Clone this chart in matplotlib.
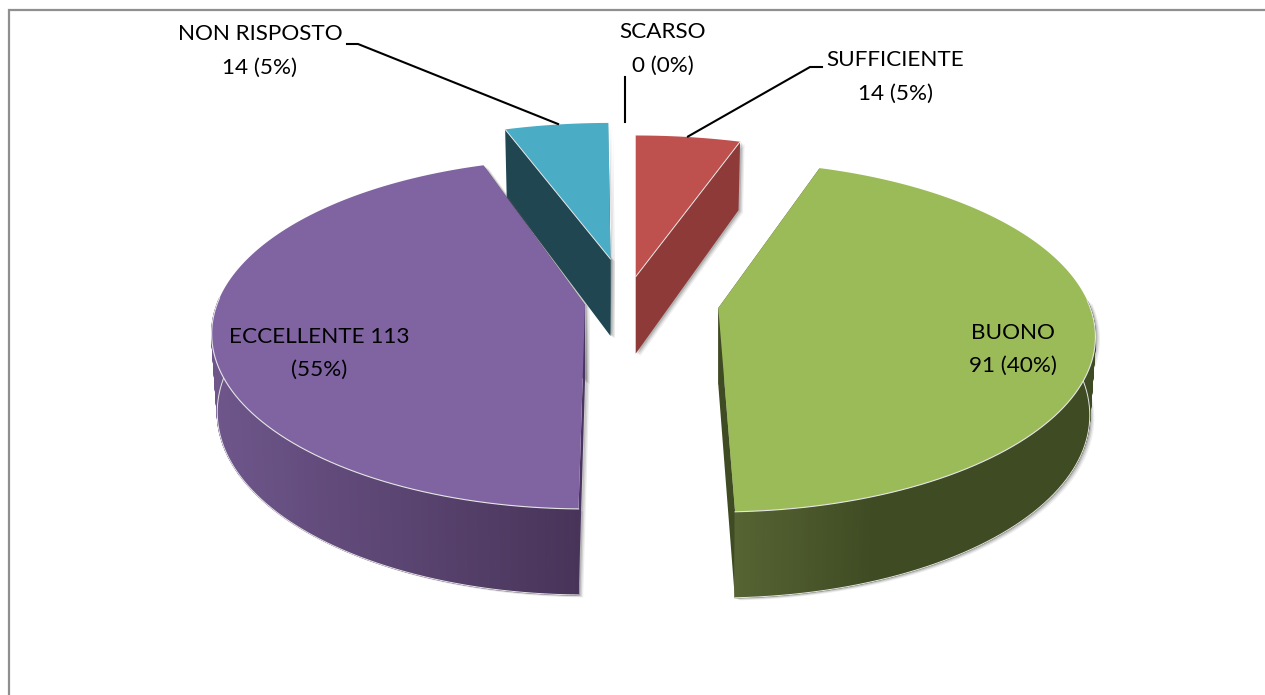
import numpy as np
import matplotlib
matplotlib.use("Agg")
import matplotlib.pyplot as plt
from matplotlib.colors import to_rgb

# ---- data: slice order runs clockwise from the top ----
categories = ["SCARSO", "SUFFICIENTE", "BUONO", "ECCELLENTE", "NON RISPOSTO"]
slice_share_pct = [0.0, 5.1, 44.3, 44.6, 5.2]     # share of the circle as drawn
label_lines = [["SCARSO", "0 (0%)"],
               ["SUFFICIENTE", "14 (5%)"],
               ["BUONO", "91 (40%)"],
               ["ECCELLENTE 113", "(55%)"],
               ["NON RISPOSTO", "14 (5%)"]]

# ---- styles and layout ----
top_colors = ["#C0504D", "#BE504E", "#9BBB59", "#8064A2", "#4BACC6"]
face_colors = ["#8E3A38", "#8E3A38", "#3F4B23", "#4A3560", "#1F4651"]
wall_left = ["#8E3A38", "#8E3A38", "#566433", "#6E568B", "#1F4651"]
wall_right = ["#8E3A38", "#8E3A38", "#3F4B23", "#483459", "#1F4651"]
apex_x = [625.0, 635.7, 718.3, 585.0, 610.5]
apex_y = [270.0, 276.7, 308.0, 305.0, 259.0]
scale_x = [1.0, 1.03, 1.0, 0.99, 1.0]
scale_y = [1.0, 0.965, 1.0, 1.0, 0.93]
angle_shift_deg = [0.0, 0.0, 0.0, 3.0, 2.5]       # exploded slices sit slightly rotated
RX, RY, PERSP = 372.0, 170.4, 0.1645
DEPTH_MEAN, DEPTH_SLOPE, BOTTOM_SHRINK = 77.0, 9.0, 0.985
label_x = [663, 895, 1013, 319, 260]
label_y = [[32.5, 65.5], [60.5, 93.5], [333, 366], [337, 370], [34.5, 67.5]]
leader_x = [[625, 625], [822, 810, 688], None, None, [347, 358, 558]]
leader_y = [[77, 122], [67, 67, 136.5], None, None, [44, 44, 124]]
draw_order = [4, 1, 2, 3]
FONT = "Lato"
FONT_SIZE = 16.2
RIM = "#E6E6E6"

fig = plt.figure(figsize=(12.65, 6.95), dpi=100, facecolor="white")
ax = fig.add_axes([0, 0, 1, 1])
ax.set_xlim(0, 1265)
ax.set_ylim(695, 0)
ax.axis("off")

# chart frame: only left and top are in view
ax.plot([9, 9, 1265], [695, 10, 10], color="#8F8F8F", lw=1.6, solid_joinstyle="miter", zorder=1)

edges_deg = np.cumsum([0.0] + slice_share_pct) * 3.6


def top_xy(i, theta_deg):
    t = np.radians(theta_deg)
    u, v = np.sin(t), np.cos(t)
    w = 1 + PERSP * v
    return (apex_x[i] + scale_x[i] * RX * u / w,
            apex_y[i] - scale_y[i] * RY * v / w)


def bottom_xy(i, theta_deg):
    x, y = top_xy(i, theta_deg)
    v = np.cos(np.radians(theta_deg))
    return (apex_x[i] + (x - apex_x[i]) * BOTTOM_SHRINK,
            y + DEPTH_MEAN - DEPTH_SLOPE * v)


for i in draw_order:
    a0, a1 = edges_deg[i] + angle_shift_deg[i], edges_deg[i + 1] + angle_shift_deg[i]
    th = np.linspace(a0, a1, max(int((a1 - a0) * 2), 8) + 1)
    tx, ty = top_xy(i, th)
    bx, by = bottom_xy(i, th)
    ax0, ay0 = apex_x[i], apex_y[i]
    abx, aby = ax0, ay0 + DEPTH_MEAN
    front = np.cos(np.radians(th)) < 0.05

    faces = [
        (np.r_[ax0, abx, bx[0], tx[0]], np.r_[ay0, aby, by[0], ty[0]]),
        (np.r_[ax0, abx, bx[-1], tx[-1]], np.r_[ay0, aby, by[-1], ty[-1]]),
    ]
    z = 2 + draw_order.index(i) * 10

    # soft shadow of the visible solid
    shadow_parts = list(faces)
    if front.any():
        shadow_parts.append((np.r_[tx[front], bx[front][::-1]], np.r_[ty[front], by[front][::-1]]))
    for off, alpha in [(5, 0.10), (3.5, 0.16), (2, 0.25)]:
        for fx, fy in shadow_parts:
            ax.fill(fx + off * 0.9, fy + off * 0.5, color="#555555", alpha=alpha, lw=0, zorder=z)

    # cut faces
    for fx, fy in faces:
        ax.fill(fx, fy, color=face_colors[i], lw=0, zorder=z + 1)

    # outer wall, front part only, shaded across the slice in short strips
    c0, c1 = np.array(to_rgb(wall_left[i])), np.array(to_rgb(wall_right[i]))
    x_lo, x_hi = tx.min(), tx.max()
    for k in range(len(th) - 1):
        if not (front[k] and front[k + 1]):
            continue
        xm = 0.5 * (tx[k] + tx[k + 1])
        f = (xm - x_lo) / max(x_hi - x_lo, 1)
        if i == 2:
            f = min(f * 2.6, 1.0)   # green wall settles early to its dark tone
        col = c0 + (c1 - c0) * f
        ax.fill([tx[k], tx[k + 1], bx[k + 1], bx[k]],
                [ty[k], ty[k + 1], by[k + 1], by[k]],
                color=col, ec=col, lw=0.8, zorder=z + 2)
    if front.any():
        ax.plot(bx[front], by[front], color=RIM, lw=0.7, zorder=z + 3)

    # top surface
    ax.fill(np.r_[ax0, tx], np.r_[ay0, ty], color=top_colors[i], lw=0, zorder=z + 4)
    if front.any():
        ax.plot(tx[front], ty[front], color=RIM, lw=0.8, zorder=z + 5)

# thin light seams where small slices meet their cut faces
for i, idx in [(1, -1), (4, 0)]:
    a = edges_deg[i + (1 if idx == -1 else 0)] + angle_shift_deg[i]
    ex, ey = top_xy(i, a)
    ax.plot([apex_x[i], ex], [apex_y[i], ey], color=RIM, lw=0.7,
            zorder=2 + draw_order.index(i) * 10 + 5)

# leader lines
for lx, ly in zip(leader_x, leader_y):
    if lx is not None:
        ax.plot(lx, ly, color="black", lw=1.5, solid_joinstyle="miter", zorder=60)

# labels
for i, lines in enumerate(label_lines):
    for s, y in zip(lines, label_y[i]):
        ax.text(label_x[i], y, s, ha="center", va="center", family=FONT,
                fontsize=FONT_SIZE, color="black", zorder=70)

fig.savefig("out.png", dpi=100, facecolor="white")
